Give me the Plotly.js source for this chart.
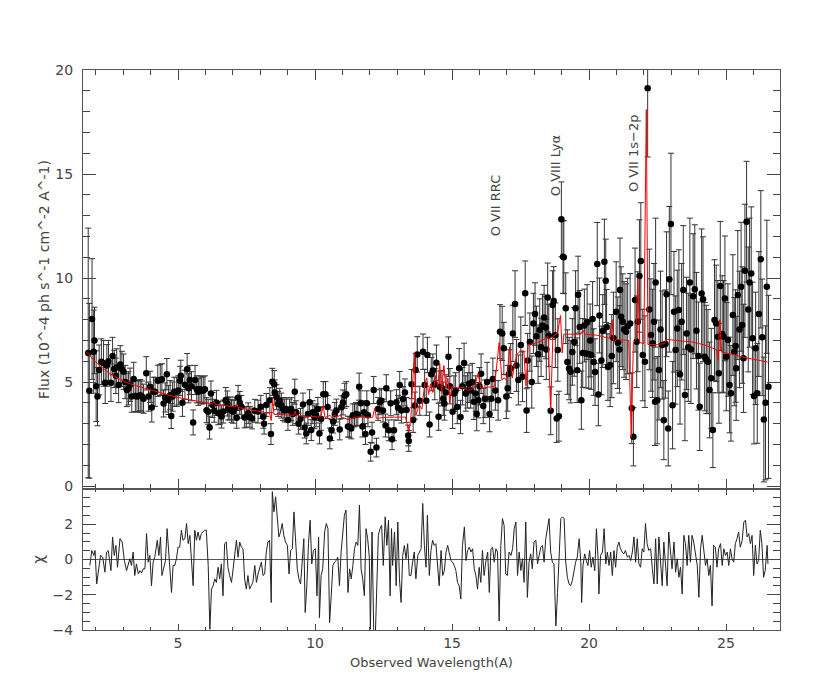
<!DOCTYPE html>
<html><head><meta charset="utf-8">
<script src="https://cdn.plot.ly/plotly-3.0.1.min.js"></script>
<style>html,body{margin:0;padding:0;background:#fff}#chart{width:830px;height:700px}</style>
</head><body><div id="chart"></div>
<script>
// Observed spectrum: wavelength (A), flux (1e-4 ph/s/cm2/A), 1-sigma error
const wave = [
1.72,1.76,1.86,1.92,1.95,2.01,2.06,2.12,2.20,2.28,2.34,2.40,2.46,2.55,2.61,2.67,2.73,2.76,2.83,2.89,
2.95,3.01,3.07,3.13,3.19,3.25,3.31,3.38,3.44,3.50,3.56,3.62,3.68,3.74,3.84,3.92,3.98,4.04,4.10,4.16,
4.26,4.35,4.41,4.47,4.53,4.59,4.65,4.71,4.75,4.80,4.86,4.95,5.01,5.07,5.10,5.16,5.25,5.33,5.38,5.43,
5.49,5.55,5.62,5.68,5.74,5.80,5.86,5.92,5.98,6.04,6.10,6.15,6.20,6.26,6.32,6.40,6.47,6.53,6.59,6.65,
6.74,6.80,6.83,6.89,6.95,7.01,7.07,7.14,7.19,7.25,7.31,7.43,7.49,7.56,7.62,7.70,7.80,7.92,8.02,
8.11,8.14,8.22,8.35,8.39,8.44,8.51,8.53,8.59,8.65,8.71,8.77,8.83,8.89,8.95,9.01,9.07,9.13,9.19,9.26,
9.31,9.40,9.47,9.56,9.62,9.68,9.74,9.80,9.86,9.92,9.98,10.04,10.10,10.16,10.22,10.30,10.38,10.46,10.54,10.60,
10.66,10.72,10.78,10.90,10.96,11.02,11.08,11.14,11.20,11.26,11.32,11.38,11.44,11.50,11.56,11.61,11.67,11.73,11.79,11.84,
11.89,11.93,12.03,12.08,12.14,12.24,12.30,12.36,12.42,12.48,12.57,12.60,12.69,12.76,12.81,12.88,12.97,13.03,13.09,13.15,
13.21,13.28,13.34,13.40,13.42,13.52,13.58,13.64,13.67,13.73,13.82,13.94,14.00,14.06,14.10,14.18,14.24,14.30,14.37,14.43,
14.51,14.55,
14.63,14.68,14.72,14.78,14.87,14.92,15.02,15.07,15.13,15.19,15.26,15.31,15.38,15.44,15.50,15.56,15.62,15.68,15.74,15.80,
15.86,15.90,15.96,16.00,16.06,16.14,16.20,16.28,16.37,16.43,16.49,16.58,16.68,16.75,16.83,16.89,16.98,17.03,17.08,17.14,
17.22,17.30,17.35,17.42,17.51,17.57,17.67,17.72,17.76,17.84,17.91,17.97,18.03,18.08,18.14,18.20,18.25,18.30,18.36,18.42,
18.44,18.49,18.53,18.60,18.67,18.71,18.77,18.82,18.86,18.90,18.99,19.05,19.08,19.15,19.21,19.27,19.33,19.39,19.46,19.51,
19.57,19.60,19.66,19.72,19.77,19.83,19.89,19.93,19.99,20.04,20.08,20.13,20.17,20.22,20.30,20.34,20.38,20.45,20.50,20.56,
20.61,20.64,20.69,
20.77,20.83,20.89,20.99,21.05,21.11,21.13,21.17,21.23,21.28,21.35,21.41,21.50,21.56,21.62,21.68,21.74,21.78,21.84,21.89,
21.96,22.04,22.14,22.20,22.26,22.32,22.37,22.41,22.43,22.49,22.55,22.61,22.67,22.73,22.79,22.83,22.89,22.93,22.99,23.05,
23.10,23.16,23.22,23.28,23.32,23.38,23.44,23.50,23.56,23.62,23.68,23.72,23.80,23.86,23.92,23.99,24.04,24.11,24.16,24.22,
24.28,24.34,24.40,24.46,24.52,24.58,24.64,24.70,24.74,24.79,24.86,24.91,24.96,25.01,25.07,25.13,25.18,25.25,25.30,25.35,
25.37,25.43,25.49,25.55,25.59,25.64,25.69,25.75,25.81,25.86,25.92,25.97,26.02,26.08,26.14,26.20,26.27,26.32,26.38,26.44,
26.49,26.55];
const flux = [
6.40,4.58,8.03,6.46,7.00,4.80,4.30,5.58,5.98,5.90,4.97,5.80,6.00,4.97,6.25,5.63,5.30,5.70,4.86,5.85,
5.63,5.50,5.00,4.62,4.70,4.87,4.30,5.15,4.33,4.30,4.33,4.37,4.30,4.20,5.42,4.30,4.77,3.78,4.53,4.53,
5.06,5.10,5.13,3.97,4.26,5.38,4.14,4.37,3.37,4.30,4.53,4.53,4.60,5.06,5.30,4.00,4.87,5.62,4.70,5.10,
4.80,3.06,5.10,4.65,4.53,4.65,4.60,4.60,4.65,3.65,3.57,2.81,4.45,3.90,3.62,4.00,3.50,3.53,3.34,3.58,
4.14,3.97,3.73,3.73,3.62,3.57,3.73,3.28,4.24,4.00,3.81,3.30,3.33,3.50,3.33,3.25,3.62,3.58,3.81,
3.33,3.00,3.90,4.13,2.50,5.01,4.90,4.50,4.27,3.95,4.10,3.87,3.70,3.63,3.70,3.18,3.63,3.70,3.47,4.54,
3.55,3.00,3.23,3.92,2.81,2.53,3.47,4.03,2.69,3.55,3.31,3.40,3.71,2.53,3.23,4.42,4.42,3.80,2.29,2.69,
3.10,3.47,3.63,2.72,3.79,4.02,4.34,4.42,2.86,2.84,2.77,3.40,3.40,3.47,3.44,4.78,3.98,2.86,3.55,2.50,
3.98,3.40,1.65,2.57,4.62,1.85,3.71,4.03,4.10,3.63,2.91,4.70,2.68,3.98,2.25,2.68,4.03,3.76,4.86,3.63,
4.18,4.50,3.66,2.43,2.17,4.90,3.18,3.87,5.58,6.33,4.10,6.46,4.86,4.10,6.30,2.96,5.38,5.55,4.90,5.93,
3.33,4.78,
4.70,4.20,3.97,4.50,6.22,4.80,3.57,4.45,4.60,3.80,5.66,3.32,4.80,5.92,4.45,4.60,4.92,4.60,5.00,4.05,
4.45,3.46,4.13,4.80,5.40,3.85,4.20,5.00,3.46,4.20,5.15,4.60,4.12,7.42,7.34,6.62,4.30,4.70,5.40,5.65,
7.34,8.75,5.80,5.10,6.78,5.26,9.27,3.63,6.04,6.92,5.00,7.82,8.27,7.20,6.34,7.50,6.67,7.72,8.10,7.62,
6.57,9.07,7.24,3.62,8.70,8.90,7.25,3.25,6.54,3.36,12.82,11.02,11.00,8.55,5.96,5.65,5.50,6.45,6.93,8.55,
5.57,9.20,7.65,4.13,6.40,7.72,6.37,7.88,6.35,7.00,6.30,8.03,5.96,5.48,10.67,4.40,8.20,6.04,7.45,10.78,
9.87,7.65,5.72,
5.82,6.25,7.12,8.38,6.89,6.57,9.42,8.14,7.90,7.53,7.42,7.69,7.82,3.74,2.37,8.94,6.94,7.90,10.10,10.82,
6.30,5.98,19.12,8.49,7.26,6.86,7.90,4.05,9.78,4.13,5.58,7.53,6.78,3.17,6.83,9.22,2.77,9.94,12.60,3.89,
8.38,6.54,7.58,8.46,5.38,7.90,9.42,4.38,7.34,6.67,9.78,6.57,9.13,9.46,7.47,6.25,3.81,9.26,8.98,6.22,
6.09,5.98,4.62,5.18,2.69,7.98,7.82,7.18,5.42,9.62,7.31,7.18,9.02,6.22,7.02,4.86,4.46,8.22,6.46,6.73,
5.66,9.18,7.53,9.58,7.74,6.14,10.35,12.71,8.49,9.78,10.22,7.10,4.33,6.62,4.46,8.27,10.90,7.15,3.20,4.00,
9.58,4.77];
const fluxErr = [
6.0,4.2,2.9,2.0,1.6,1.7,1.4,1.2,1.1,1.1,1.0,1.0,1.0,0.9,0.9,0.9,0.85,0.9,0.85,0.9,
0.85,0.85,0.8,0.8,0.8,0.8,0.75,0.8,0.75,0.75,0.75,0.75,0.75,0.7,0.8,0.7,0.75,0.7,0.7,0.7,
0.75,0.75,0.75,0.65,0.7,0.75,0.7,0.7,0.6,0.7,0.7,0.7,0.7,0.7,0.75,0.65,0.7,0.75,0.7,0.7,
0.7,0.6,0.7,0.65,0.65,0.65,0.65,0.65,0.65,0.6,0.6,0.55,0.6,0.6,0.55,0.6,0.55,0.55,0.55,0.55,
0.6,0.6,0.55,0.55,0.55,0.55,0.55,0.5,0.6,0.55,0.55,0.5,0.5,0.5,0.5,0.5,0.55,0.55,0.55,
0.55,0.5,0.55,0.6,0.5,0.65,0.65,0.6,0.6,0.6,0.6,0.6,0.55,0.55,0.55,0.5,0.55,0.55,0.55,0.6,
0.55,0.5,0.5,0.55,0.5,0.5,0.55,0.6,0.5,0.55,0.55,0.55,0.55,0.5,0.55,0.6,0.6,0.55,0.5,0.5,
0.55,0.55,0.55,0.5,0.55,0.6,0.6,0.6,0.5,0.5,0.5,0.55,0.55,0.55,0.55,0.65,0.6,0.5,0.55,0.5,
0.6,0.55,0.45,0.5,0.65,0.45,0.55,0.6,0.6,0.55,0.55,0.65,0.5,0.6,0.5,0.5,0.6,0.6,0.65,0.6,
0.6,0.65,0.6,0.5,0.5,0.7,0.6,0.65,0.8,0.85,0.7,0.85,0.75,0.7,0.85,0.6,0.8,0.8,0.75,0.85,
0.65,0.75,
0.85,0.8,0.8,0.85,0.95,0.85,0.8,0.85,0.85,0.8,0.95,0.8,0.9,0.95,0.85,0.85,0.9,0.85,0.9,0.85,
0.85,0.8,0.85,0.9,0.95,0.85,0.9,0.95,0.85,0.9,1.0,0.95,0.95,1.3,1.3,1.25,1.05,1.1,1.15,1.2,
1.35,1.6,1.25,1.2,1.35,1.2,1.55,1.05,1.3,1.4,1.25,1.45,1.5,1.45,1.4,1.5,1.4,1.5,1.55,1.5,
1.45,1.65,1.5,1.15,1.65,1.65,1.55,1.15,1.5,1.2,1.8,1.75,1.75,1.7,1.55,1.5,1.5,1.6,1.65,1.8,
1.55,1.85,1.75,1.4,1.65,1.75,1.65,1.8,1.65,1.75,1.65,1.8,1.6,1.6,2.0,1.5,1.8,1.65,1.75,2.05,
2.0,1.8,1.6,
2.0,2.0,2.2,2.4,2.2,2.1,2.5,2.4,2.3,2.3,2.3,2.3,2.4,1.7,1.4,2.5,2.2,2.4,2.7,2.8,
2.2,2.2,3.3,2.9,2.7,2.6,2.8,2.1,3.1,2.1,2.4,2.8,2.6,1.9,2.6,3.0,1.8,3.5,3.4,2.1,
2.9,2.6,2.8,2.9,2.4,2.8,3.1,2.2,2.7,2.6,3.1,2.6,3.0,3.1,2.8,2.6,2.1,3.1,3.0,2.6,
2.6,2.5,2.3,2.4,1.8,2.9,2.8,2.7,2.4,3.1,2.8,2.7,3.0,2.6,2.7,2.3,2.3,2.9,2.6,2.7,
2.5,3.1,2.8,3.1,2.8,2.6,3.2,2.9,3.0,3.1,3.2,2.7,2.3,2.7,2.4,3.0,3.3,2.8,3.0,3.7,
3.2,4.4];

// Best-fit model curve
const modelWave = [1.65,1.80,2.00,2.30,2.60,3.00,3.40,3.85,4.30,4.70,5.07,5.50,5.90,6.27,6.32,6.37,6.80,7.08,7.13,7.18,
7.50,8.00,8.34,8.40,8.45,8.50,8.70,9.00,9.22,9.27,9.32,9.80,10.20,10.30,10.36,10.55,10.62,10.70,10.80,10.90,
11.00,11.20,11.30,11.50,12.10,12.18,12.24,12.50,13.00,13.30,13.42,13.50,13.62,13.68,13.80,13.90,14.00,14.08,14.14,14.22,
14.30,14.40,14.48,14.55,14.62,14.70,14.78,14.85,14.92,15.00,15.20,15.40,15.60,15.80,15.95,16.05,16.30,16.55,16.72,16.82,
16.90,17.00,17.10,17.20,17.35,17.50,17.62,17.70,17.78,18.00,18.30,18.50,18.60,18.68,18.85,18.96,19.02,19.08,19.40,19.70,
19.77,19.85,20.30,20.75,20.84,20.90,21.00,21.45,21.54,21.62,21.70,21.78,21.85,22.00,22.09,22.15,22.50,22.75,22.82,23.30,
23.80,24.30,24.65,24.71,24.77,24.84,25.30,25.80,26.52];
const modelFlux = [6.45,6.22,5.95,5.62,5.33,5.05,4.85,4.68,4.50,4.36,4.24,4.12,4.03,3.95,4.05,3.93,3.85,3.80,3.92,3.78,
3.70,3.58,3.50,3.15,4.20,3.45,3.45,3.42,3.40,3.60,3.38,3.35,3.32,3.85,3.30,3.40,3.28,3.42,3.32,3.40,
3.30,3.20,3.22,3.32,3.30,3.75,3.25,3.30,3.30,3.32,2.60,3.30,6.40,3.40,3.90,3.70,4.90,5.20,4.40,4.90,
4.50,5.30,4.80,5.90,4.50,5.80,4.70,5.20,4.00,4.80,4.70,4.75,4.60,4.70,5.40,4.70,4.75,4.80,6.90,5.10,
5.20,5.10,6.70,5.20,6.30,6.50,6.50,4.80,6.80,6.85,7.00,7.20,3.65,7.20,7.35,8.20,6.40,7.30,7.30,7.30,
7.50,7.30,7.25,7.10,8.00,6.90,7.05,7.00,2.35,6.90,7.00,10.00,6.90,6.85,18.10,6.80,6.80,6.85,7.05,7.00,
6.92,6.75,6.55,6.05,8.00,6.45,6.30,6.15,5.96];

// Residuals (chi)
const chiWave = [
1.78,1.85,1.93,1.97,2.03,2.11,2.17,2.25,2.33,2.39,2.45,2.55,2.61,2.67,2.73,2.79,2.88,2.96,3.04,3.12,
3.18,3.24,3.30,3.36,3.42,3.48,3.55,3.61,3.67,3.73,3.79,3.85,3.91,3.97,4.03,4.09,4.15,4.24,4.30,4.36,
4.41,4.48,4.54,4.60,4.65,4.70,4.76,4.82,4.88,4.94,5.00,5.06,5.12,5.18,5.25,5.31,5.37,5.43,5.49,5.55,
5.61,5.67,5.73,5.79,5.85,5.91,5.97,6.03,6.10,6.16,6.22,6.28,6.34,6.40,6.46,6.52,6.58,6.64,6.70,6.76,
6.82,6.88,6.95,7.01,7.07,7.13,7.19,7.25,7.31,7.37,7.43,7.49,7.55,7.61,7.67,7.73,7.80,7.86,7.92,7.98,
8.04,8.10,8.16,8.22,8.28,8.34,8.40,8.44,8.50,8.56,8.62,8.68,8.74,8.80,8.86,8.92,8.99,9.05,9.11,9.17,
9.23,9.29,9.35,9.41,9.47,9.53,9.59,9.64,9.70,9.76,9.82,9.88,9.94,10.01,10.07,10.13,10.16,10.22,10.28,10.35,
10.41,10.47,10.53,10.59,10.65,10.71,10.77,10.83,10.89,10.95,11.01,11.07,11.13,11.20,11.26,11.32,11.38,11.44,11.50,11.56,
11.62,11.68,11.74,11.80,11.86,11.92,11.98,12.02,12.08,12.14,12.20,12.26,12.31,12.37,12.43,12.49,12.56,12.62,12.68,12.74,
12.79,12.83,12.90,12.96,13.02,13.08,13.14,13.20,13.26,13.32,13.38,13.44,13.50,13.56,13.62,13.68,13.75,13.81,13.87,
13.93,13.99,14.05,14.10,14.17,14.23,14.29,14.35,14.41,14.47,14.53,14.60,14.66,14.72,14.78,14.84,14.90,14.96,15.02,15.08,
15.14,15.20,15.26,15.32,15.38,15.45,15.51,15.57,15.63,15.69,15.75,15.81,15.87,15.93,15.99,16.05,16.11,16.17,16.23,16.30,
16.36,16.42,16.48,16.54,16.60,16.66,16.72,16.78,16.84,16.90,16.96,17.02,17.08,17.15,17.21,17.27,17.33,17.39,17.45,17.51,
17.57,17.63,17.69,17.75,17.81,17.87,17.93,17.99,18.06,18.12,18.18,18.24,18.30,18.36,18.42,18.48,18.54,18.60,18.66,18.72,
18.79,18.85,18.91,18.97,19.03,19.09,19.15,19.21,19.27,19.33,19.39,19.45,19.51,19.57,19.64,19.70,19.73,19.78,19.84,19.90,
19.96,20.02,20.08,20.14,20.21,20.27,20.33,20.36,20.42,20.49,20.55,20.61,20.67,20.73,20.79,20.85,20.91,20.97,21.03,21.09,
21.15,21.21,21.27,21.33,21.40,21.46,21.52,21.58,21.64,21.70,21.76,21.82,21.88,21.94,22.00,22.06,22.12,22.18,22.25,22.31,
22.37,22.43,22.49,22.55,22.61,22.67,22.73,22.79,22.85,22.91,22.97,23.03,23.10,23.16,23.22,23.28,23.34,23.40,23.46,23.52,
23.58,23.64,23.70,23.76,23.82,23.89,23.95,24.01,24.07,24.13,24.19,24.25,24.31,24.37,24.43,24.49,24.55,24.61,24.67,24.73,
24.80,24.86,24.92,24.98,25.04,25.10,25.16,25.22,25.28,25.34,25.40,25.46,25.52,25.59,25.65,25.71,25.77,25.83,25.89,25.95,
26.01,26.07,26.13,26.19,26.25,26.31,26.37,26.43,26.50,26.53];
const chiVal = [
-0.34,0.51,0.23,0.51,-1.39,-0.34,0.23,0.13,-0.72,0.42,0.51,-0.63,1.28,0.23,0.80,-0.44,1.18,0.99,-0.06,-0.63,
-0.25,0.04,-0.34,0.42,-0.91,-0.25,-0.82,-0.63,-0.76,-0.53,-0.53,1.47,-0.15,0.23,-1.49,-0.15,0.13,1.09,0.23,1.28,
-0.91,-0.34,-0.06,1.75,0.51,-0.44,-1.87,-0.34,-0.34,0.04,0.70,0.70,1.66,1.09,1.18,2.04,0.90,1.37,-0.06,-1.49,
1.66,1.09,1.56,1.09,1.47,1.56,1.66,1.66,-0.34,-3.96,-1.68,-1.49,-1.10,-1.30,-0.44,-1.10,-0.25,-2.06,0.90,0.99,
-0.44,-0.91,-1.30,-0.53,0.51,1.09,0.13,0.99,0.70,0.61,-1.10,-1.68,-0.91,-1.68,-1.49,-1.30,-0.34,-1.30,-0.82,-0.53,
-0.15,-0.91,-0.82,0.42,0.99,1.09,-2.44,3.85,2.70,3.56,2.13,1.28,1.56,2.04,1.37,0.99,0.80,-0.82,0.51,0.61,
2.70,0.80,-0.53,-1.10,-1.39,-0.15,1.18,-3.01,-1.49,0.90,2.23,-0.25,0.51,0.61,-2.06,1.28,-3.30,-0.91,-0.53,1.56,
2.04,1.75,-3.58,-2.06,-0.34,-0.15,-0.06,0.13,-1.49,0.42,1.75,2.51,2.80,-1.87,-0.53,-1.10,-0.34,0.61,0.99,0.80,
3.09,-0.53,-1.10,-2.06,1.75,1.18,0.13,-3.96,1.56,-3.96,-4.30,-1.68,1.37,1.75,1.94,-0.34,2.42,0.80,2.23,-2.06,
1.75,-0.34,1.56,-1.49,2.13,-1.10,-2.44,0.23,0.80,0.04,0.90,-0.91,-0.91,-0.15,0.42,-1.10,0.23,0.42,0.61,
3.18,0.80,-0.44,2.51,-0.91,0.51,1.09,0.80,0.90,-0.53,-1.49,0.51,-0.91,-0.63,0.42,0.80,0.42,-0.06,-0.15,-0.34,
-0.63,-1.30,-1.49,-2.25,0.80,1.85,-0.06,0.51,0.70,0.42,0.61,-0.53,-0.91,-1.68,-0.44,-1.30,0.51,-0.91,-0.15,0.42,
-1.87,0.61,0.70,-0.15,0.61,0.42,-3.49,0.80,2.32,1.94,-0.82,-0.91,0.42,0.23,0.61,1.75,2.13,-0.91,0.42,-0.63,
0.04,-1.30,2.13,-2.15,-0.15,0.32,-0.53,0.99,1.09,-0.25,0.23,0.70,0.80,-0.15,1.18,1.75,2.32,0.42,-0.15,-0.25,
-3.77,-1.87,0.51,2.32,2.42,2.32,-0.15,-1.01,-1.39,-1.49,-1.20,-0.53,-0.15,0.13,1.18,-0.15,-2.44,-0.34,0.32,-0.06,
-0.34,0.51,-0.44,0.13,-0.63,1.75,0.04,-1.96,0.23,0.42,1.75,-0.25,0.42,-0.34,0.42,-0.91,0.51,-0.44,0.70,0.99,
0.61,0.42,0.32,0.51,0.13,0.23,-0.06,0.42,1.28,-0.15,1.18,-0.25,-0.44,0.61,0.42,2.04,0.90,0.51,0.61,-0.53,
-1.39,1.18,-1.39,1.28,0.04,-1.49,0.99,-0.25,-1.49,1.56,0.42,-0.53,0.99,-0.72,0.04,-1.01,-0.44,-1.96,1.37,0.90,
-0.34,1.37,-0.15,1.37,0.99,0.32,-0.34,-2.15,0.61,1.37,0.42,-0.34,0.04,-0.91,-0.34,-2.63,0.80,0.70,-0.44,0.61,
0.90,-0.34,0.61,0.23,0.42,-0.34,0.61,0.04,-0.15,0.90,1.18,1.56,0.70,1.09,2.13,2.23,1.28,1.47,0.90,1.37,
-0.91,0.80,-0.25,-0.06,1.66,0.90,-1.01,-0.63,0.80,-0.25];

// Ticks and labels
const waveTicks = [5,10,15,20,25];
const fluxTicks = [0,5,10,15,20];
const chiTicks = [-4,-2,0,2];
const lineLabels = ["O VII RRC","O VIII Lyα","O VII 1s−2p"];
const lineLabelWave = [16.57,18.76,21.60];
const lineLabelFlux = [13.5,15.38,16.0];

const FONT = 'DejaVu Sans, Liberation Sans, sans-serif';
const TXT = '#444';
const tickFont = {family: FONT, size: 14, color: TXT};
const base = {showgrid:false, zeroline:false, showline:true, linecolor:'#555', linewidth:1,
  mirror:'allticks', ticks:'inside', tickcolor:'#444', tickwidth:1, tickfont: tickFont};

const traces = [
  {type:'scatter', mode:'markers', x: wave, y: flux, xaxis:'x', yaxis:'y',
   marker:{color:'#000', size:6.5},
   error_y:{type:'data', array: fluxErr, visible:true, color:'#333', thickness:1, width:3},
   hoverinfo:'skip'},
  {type:'scatter', mode:'lines', x: modelWave, y: modelFlux, xaxis:'x', yaxis:'y',
   line:{color:'#ff0000', width:1}, hoverinfo:'skip'},
  {type:'scatter', mode:'lines', x: chiWave, y: chiVal, xaxis:'x2', yaxis:'y2',
   line:{color:'#222', width:1}, hoverinfo:'skip'}
];

const layout = {
  width:830, height:700, margin:{l:83, r:50, t:70, b:70},
  paper_bgcolor:'#fff', plot_bgcolor:'#fff', showlegend:false,
  font:{family: FONT, size:13, color: TXT},
  xaxis: Object.assign({}, base, {anchor:'y', range:[1.53,26.97], tickvals: waveTicks,
    showticklabels:false, ticklen:10,
    minor:{dtick:1, tick0:0, ticklen:5, ticks:'inside', tickcolor:'#444'}}),
  yaxis: Object.assign({}, base, {anchor:'x', domain:[0.2518,1], range:[-0.14,20], tickvals: fluxTicks,
    ticklen:13, ticklabelstandoff:6,
    minor:{dtick:1, tick0:0, ticklen:7, ticks:'inside', tickcolor:'#444'},
    title:{text:'Flux (10^-4 ph s^-1 cm^-2 A^-1)', font:{family:FONT, size:14, color:TXT}, standoff:2}}),
  xaxis2: Object.assign({}, base, {anchor:'y2', matches:'x', range:[1.53,26.97], tickvals: waveTicks,
    ticklen:6,
    minor:{dtick:1, tick0:0, ticklen:3, ticks:'inside', tickcolor:'#444'},
    title:{text:'Observed Wavelength(A)', font:{family:FONT, size:13, color:TXT}, standoff:8}}),
  yaxis2: Object.assign({}, base, {anchor:'x2', domain:[0,0.2518], range:[-4,4], tickvals: chiTicks,
    ticklen:13, ticklabelstandoff:6, zeroline:true, zerolinecolor:'#555', zerolinewidth:1,
    minor:{dtick:0.5, tick0:0, ticklen:7, ticks:'inside', tickcolor:'#444'},
    title:{text:'χ', font:{family:FONT, size:15, color:TXT}, standoff:4}}),
  annotations: lineLabels.map((t,i) => ({text:t, x: lineLabelWave[i], y: lineLabelFlux[i],
    xref:'x', yref:'y', showarrow:false, textangle:-90, xanchor:'center', yanchor:'middle',
    font:{family:FONT, size:13, color:TXT}}))
};

Plotly.newPlot('chart', traces, layout, {displayModeBar:false, staticPlot:true});
</script>
</body></html>
